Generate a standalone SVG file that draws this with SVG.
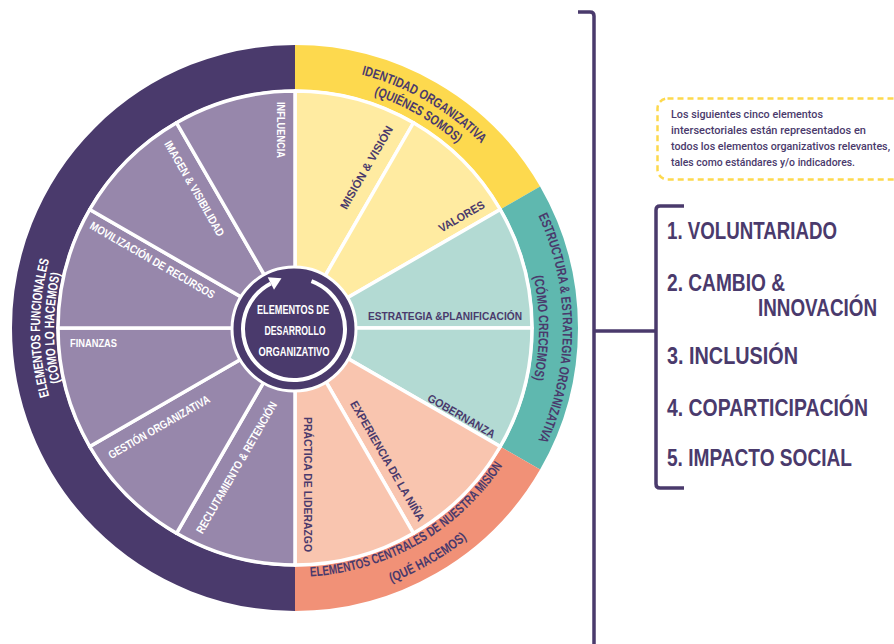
<svg xmlns="http://www.w3.org/2000/svg" width="894" height="644" viewBox="0 0 894 644">
<style>
.wedge{stroke:#fff;stroke-width:3.5;stroke-linejoin:round}
.band{fill:none;stroke-width:44.5}
.lbl{font-family:'Liberation Sans',Arial,sans-serif;font-weight:bold;font-size:11.5px}
.bl{font-family:'Liberation Sans',Arial,sans-serif;font-weight:bold;font-size:13.5px}
.w{fill:#fff}
.d{fill:#4A3A6C}
.ctr{font-family:'Liberation Sans',Arial,sans-serif;font-weight:bold;font-size:13.5px;fill:#fff}
.item{font-family:'Liberation Sans',Arial,sans-serif;font-weight:bold;font-size:23px;fill:#4A3A6C}
.note{font-family:Roboto,'Liberation Sans',Arial,sans-serif;font-weight:500;font-size:11.5px;fill:#4A3A6C}
.brk{fill:none;stroke:#4A3A6C;stroke-width:3.5;stroke-linecap:butt}
</style>
<defs>
<path id="pL1" d="M207.79,567.62 A255,255 0 0 1 207.79,88.38"/>
<path id="pL2" d="M212.58,554.47 A241,241 0 0 1 212.58,101.53"/>
<path id="pY1" d="M164,101.1 A262,262 0 0 1 557,328"/>
<path id="pY2" d="M172,115 A246,246 0 0 1 541,328"/>
<path id="pT1" d="M429,96 A268,268 0 0 1 429,560"/>
<path id="pT2" d="M417,116.7 A244,244 0 0 1 417,539.3"/>
<path id="pO1" d="M170.5,543.6 A249,249 0 0 0 544,328"/>
<path id="pO2" d="M159,563.56 A272,272 0 0 0 567,328"/>
</defs>

<g id="outer-ring">
<path class="band" stroke="#4A3A6C" d="M295,588.75 A260.75,260.75 0 0 1 295,67.25"/>
<path class="band" stroke="#FDD94E" d="M295,67.25 A260.75,260.75 0 0 1 520.81,197.625"/>
<path class="band" stroke="#5FB8AF" d="M520.81,197.625 A260.75,260.75 0 0 1 520.81,458.375"/>
<path class="band" stroke="#F19177" d="M520.81,458.375 A260.75,260.75 0 0 1 295,588.75"/>
</g>

<g id="band-labels">
<text class="bl w"><textPath href="#pL1" startOffset="50%" text-anchor="middle" textLength="138" lengthAdjust="spacingAndGlyphs">ELEMENTOS FUNCIONALES</textPath></text>
<text class="bl w"><textPath href="#pL2" startOffset="50%" text-anchor="middle" textLength="110" lengthAdjust="spacingAndGlyphs">(CÓMO LO HACEMOS)</textPath></text>
<text class="bl d"><textPath href="#pY1" startOffset="50%" text-anchor="middle" textLength="140" lengthAdjust="spacingAndGlyphs">IDENTIDAD ORGANIZATIVA</textPath></text>
<text class="bl d"><textPath href="#pY2" startOffset="50%" text-anchor="middle" textLength="97" lengthAdjust="spacingAndGlyphs">(QUIÉNES SOMOS)</textPath></text>
<text class="bl d"><textPath href="#pT1" startOffset="50%" text-anchor="middle" textLength="232" lengthAdjust="spacingAndGlyphs">ESTRUCTURA &amp; ESTRATEGIA ORGANIZATIVA</textPath></text>
<text class="bl d"><textPath href="#pT2" startOffset="50%" text-anchor="middle" textLength="104" lengthAdjust="spacingAndGlyphs">(CÓMO CRECEMOS)</textPath></text>
<text class="bl d"><textPath href="#pO1" startOffset="50%" text-anchor="middle" textLength="230" lengthAdjust="spacingAndGlyphs">ELEMENTOS CENTRALES DE NUESTRA MISIÓN</textPath></text>
<text class="bl d"><textPath href="#pO2" startOffset="50%" text-anchor="middle" textLength="88" lengthAdjust="spacingAndGlyphs">(QUÉ HACEMOS)</textPath></text>
</g>

<g id="seg-mision">
<path class="wedge" fill="#FFEBA1" d="M295,328 L295,91 A237,237 0 0 1 413.5,122.75 Z"/>
<text class="lbl d" transform="translate(366.5,167.5) rotate(-60)" y="4" text-anchor="middle" textLength="94" lengthAdjust="spacingAndGlyphs">MISIÓN &amp; VISIÓN</text>
</g>
<g id="seg-valores">
<path class="wedge" fill="#FFEBA1" d="M295,328 L413.5,122.75 A237,237 0 0 1 500.25,209.5 Z"/>
<text class="lbl d" transform="translate(461.5,216.5) rotate(-30)" y="4" text-anchor="middle" textLength="51" lengthAdjust="spacingAndGlyphs">VALORES</text>
</g>
<g id="seg-estrategia">
<path class="wedge" fill="#B3DAD3" d="M295,328 L500.25,209.5 A237,237 0 0 1 532,328 Z"/>
<text class="lbl d" x="445" y="319.5" text-anchor="middle" textLength="154" lengthAdjust="spacingAndGlyphs">ESTRATEGIA &amp;PLANIFICACIÓN</text>
</g>
<g id="seg-gobernanza">
<path class="wedge" fill="#B3DAD3" d="M295,328 L532,328 A237,237 0 0 1 500.25,446.5 Z"/>
<text class="lbl d" transform="translate(461.5,416) rotate(30)" y="4" text-anchor="middle" textLength="76" lengthAdjust="spacingAndGlyphs">GOBERNANZA</text>
</g>
<g id="seg-experiencia">
<path class="wedge" fill="#F9C5AF" d="M295,328 L500.25,446.5 A237,237 0 0 1 413.5,533.25 Z"/>
<text class="lbl d" transform="translate(387.5,461) rotate(60)" y="4" text-anchor="middle" textLength="137" lengthAdjust="spacingAndGlyphs">EXPERIENCIA DE LA NIÑA</text>
</g>
<g id="seg-practica">
<path class="wedge" fill="#F9C5AF" d="M295,328 L413.5,533.25 A237,237 0 0 1 295,565 Z"/>
<text class="lbl d" transform="translate(308,484.5) rotate(90)" y="4" text-anchor="middle" textLength="135" lengthAdjust="spacingAndGlyphs">PRÁCTICA DE LIDERAZGO</text>
</g>
<g id="seg-reclutamiento">
<path class="wedge" fill="#9787AB" d="M295,328 L295,565 A237,237 0 0 1 176.5,533.25 Z"/>
<text class="lbl w" transform="translate(236.5,467.5) rotate(-60)" y="4" text-anchor="middle" textLength="150" lengthAdjust="spacingAndGlyphs">RECLUTAMIENTO &amp; RETENCIÓN</text>
</g>
<g id="seg-gestion">
<path class="wedge" fill="#9787AB" d="M295,328 L176.5,533.25 A237,237 0 0 1 89.75,446.5 Z"/>
<text class="lbl w" transform="translate(159,427) rotate(-30)" y="4" text-anchor="middle" textLength="115" lengthAdjust="spacingAndGlyphs">GESTIÓN ORGANIZATIVA</text>
</g>
<g id="seg-finanzas">
<path class="wedge" fill="#9787AB" d="M295,328 L89.75,446.5 A237,237 0 0 1 58,328 Z"/>
<text class="lbl w" x="93.5" y="347" text-anchor="middle" textLength="47" lengthAdjust="spacingAndGlyphs">FINANZAS</text>
</g>
<g id="seg-movilizacion">
<path class="wedge" fill="#9787AB" d="M295,328 L58,328 A237,237 0 0 1 89.75,209.5 Z"/>
<text class="lbl w" transform="translate(152.5,260) rotate(30)" y="4" text-anchor="middle" textLength="142" lengthAdjust="spacingAndGlyphs">MOVILIZACIÓN DE RECURSOS</text>
</g>
<g id="seg-imagen">
<path class="wedge" fill="#9787AB" d="M295,328 L89.75,209.5 A237,237 0 0 1 176.5,122.75 Z"/>
<text class="lbl w" transform="translate(194.5,188.5) rotate(60)" y="4" text-anchor="middle" textLength="108" lengthAdjust="spacingAndGlyphs">IMAGEN &amp; VISIBILIDAD</text>
</g>
<g id="seg-influencia">
<path class="wedge" fill="#9787AB" d="M295,328 L176.5,122.75 A237,237 0 0 1 295,91 Z"/>
<text class="lbl w" transform="translate(281,130) rotate(90)" y="4" text-anchor="middle" textLength="56" lengthAdjust="spacingAndGlyphs">INFLUENCIA</text>
</g>

<g id="center">
<circle cx="294" cy="329" r="62" fill="#4A3A6C" stroke="#fff" stroke-width="3"/>
<path d="M311.44,281.08 A51,51 0 1 1 270.85,283.56" fill="none" stroke="#fff" stroke-width="4"/>
<polygon points="267.67,277.32 274.03,289.8 281.5,278.2" fill="#fff"/>
<text class="ctr" x="293" y="314" text-anchor="middle" textLength="72" lengthAdjust="spacingAndGlyphs">ELEMENTOS DE</text>
<text class="ctr" x="295" y="335" text-anchor="middle" textLength="61" lengthAdjust="spacingAndGlyphs">DESARROLLO</text>
<text class="ctr" x="294" y="356" text-anchor="middle" textLength="71" lengthAdjust="spacingAndGlyphs">ORGANIZATIVO</text>
</g>

<g id="connectors">
<path class="brk" d="M578,12 H590 Q594,12 594,16 V650"/>
<path class="brk" d="M594,331 H656"/>
<path class="brk" d="M684,206 H660 Q656,206 656,210 V484 Q656,488 660,488 H684"/>
</g>

<g id="note">
<rect x="657.5" y="98.5" width="262" height="81" rx="10" fill="none" stroke="#FDD94E" stroke-width="2.5" stroke-dasharray="6 4"/>
<text class="note" transform="translate(671,117.5) scale(0.86,1)" textLength="176.7" lengthAdjust="spacingAndGlyphs">Los siguientes cinco elementos</text>
<text class="note" transform="translate(671,133.5) scale(0.86,1)" textLength="226.7" lengthAdjust="spacingAndGlyphs">intersectoriales están representados en</text>
<text class="note" transform="translate(671,149.5) scale(0.86,1)" textLength="254.7" lengthAdjust="spacingAndGlyphs">todos los elementos organizativos relevantes,</text>
<text class="note" transform="translate(671,165.5) scale(0.86,1)" textLength="214" lengthAdjust="spacingAndGlyphs">tales como estándares y/o indicadores.</text>
</g>

<g id="items">
<text class="item" transform="translate(667,238.5) scale(0.8,1)" textLength="212.5" lengthAdjust="spacingAndGlyphs">1. VOLUNTARIADO</text>
<text class="item" transform="translate(667,290.5) scale(0.8,1)" textLength="147.5" lengthAdjust="spacingAndGlyphs">2. CAMBIO &amp;</text>
<text class="item" transform="translate(758,315.5) scale(0.8,1)" textLength="148.75" lengthAdjust="spacingAndGlyphs">INNOVACIÓN</text>
<text class="item" transform="translate(667,363.5) scale(0.8,1)" textLength="163.75" lengthAdjust="spacingAndGlyphs">3. INCLUSIÓN</text>
<text class="item" transform="translate(667,415.5) scale(0.8,1)" textLength="251.25" lengthAdjust="spacingAndGlyphs">4. COPARTICIPACIÓN</text>
<text class="item" transform="translate(667,465.5) scale(0.8,1)" textLength="231.25" lengthAdjust="spacingAndGlyphs">5. IMPACTO SOCIAL</text>
</g>
</svg>
